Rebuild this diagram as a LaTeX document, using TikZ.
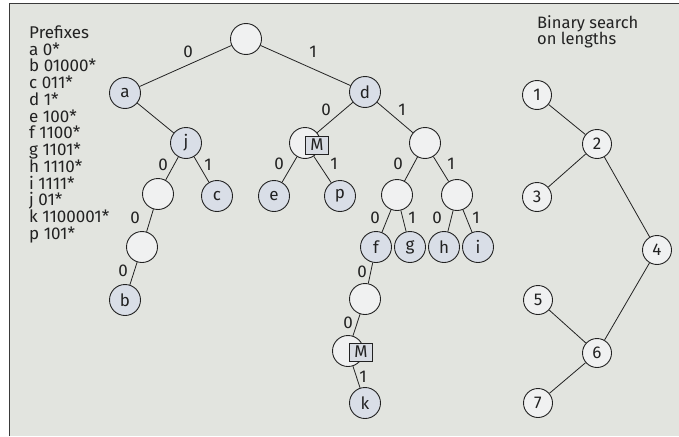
\documentclass[tikz,border=0pt]{standalone}
\usepackage{fontspec}
\setmainfont{Fira Sans}
\definecolor{bgfill}{HTML}{E2E4DF}
\definecolor{emptyfill}{HTML}{F0F1F1}
\definecolor{fullfill}{HTML}{D9DEE7}
\definecolor{boxfill}{HTML}{D8DCE3}
\definecolor{ink}{HTML}{222222}
\definecolor{framecol}{HTML}{3A3A3A}
\newcommand{\labfont}{\fontsize{17}{19}\selectfont}
\tikzset{
  lab/.style={circle, draw=ink, line width=0.9pt, fill=fullfill, minimum size=31pt,
              inner sep=0pt, text=ink, font=\labfont},
  emp/.style={lab, fill=emptyfill},
  lenbox/.style={lab, fill=emptyfill, minimum size=29pt},
  mbox/.style={draw=ink, fill=boxfill, line width=0.8pt, minimum width=23pt,
               minimum height=18pt, inner sep=0pt, text=ink, font=\labfont},
  bit/.style={inner sep=0pt, text=ink, font=\labfont},
  txt/.style={inner sep=0pt, anchor=base west, text=ink, font=\labfont},
  edge/.style={draw=ink, line width=0.8pt}
}
\begin{document}
\begin{tikzpicture}[x=1pt, y=-1pt]
\useasboundingbox (0,0) rectangle (679,436);
% panel
\fill[bgfill] (9.5,3.5) rectangle (679,436);
\draw[framecol, line width=1.4pt] (9.5,436) -- (9.5,3.5) -- (679,3.5);

% prefix table
\foreach \t [count=\i from 0] in {Prefixes, a 0*, b 01000*, c 011*, d 1*, e 100*,
  f 1100*, g 1101*, h 1110*, i 1111*, j 01*, k 1100001*, p 101*}
  \node[txt] (pf\i) at (29, 38.3+16.75*\i) {\t};

% trie nodes
\node[emp] (root) at (246,39) {};
\node[lab] (a) at (125,93) {a};
\node[lab] (d) at (365,92) {d};
\node[lab] (j) at (186,143) {j};
\node[emp] (m1) at (305,143) {};
\node[emp] (r1) at (425,143) {};
\node[emp] (j0) at (158,194) {};
\node[lab] (c) at (217,196) {c};
\node[lab] (e) at (274,196) {e};
\node[lab] (p) at (340,196) {p};
\node[emp] (r10) at (397,195) {};
\node[emp] (r11) at (457,195) {};
\node[emp] (j00) at (142,247) {};
\node[lab] (f) at (376,247) {f};
\node[lab] (g) at (410,247) {g};
\node[lab] (h) at (444,247) {h};
\node[lab] (i) at (478,247) {i};
\node[lab] (b) at (125,300) {b};
\node[emp] (f0) at (365,299) {};
\node[emp] (m2) at (348,351) {};
\node[lab] (k) at (365,403) {k};

% trie edges
\draw[edge] (root) -- (a);  \node[bit] (l1) at (188,52) {0};
\draw[edge] (root) -- (d);  \node[bit] (l2) at (313,52) {1};
\draw[edge] (a) -- (j);
\draw[edge] (d) -- (m1);    \node[bit] (l3) at (326,110) {0};
\draw[edge] (d) -- (r1);    \node[bit] (l4) at (402,110) {1};
\draw[edge] (j) -- (j0);    \node[bit] (l5) at (163,165) {0};
\draw[edge] (j) -- (c);     \node[bit] (l6) at (208,165) {1};
\draw[edge] (m1) -- (e);    \node[bit] (l7) at (279,164) {0};
\draw[edge] (m1) -- (p);    \node[bit] (l8) at (334,164) {1};
\draw[edge] (r1) -- (r10);  \node[bit] (l9) at (398,164) {0};
\draw[edge] (r1) -- (r11);  \node[bit] (l10) at (451,164) {1};
\draw[edge] (j0) -- (j00);  \node[bit] (l11) at (135,218) {0};
\draw[edge] (j00) -- (b);   \node[bit] (l12) at (123,271) {0};
\draw[edge] (r10) -- (f);   \node[bit] (l13) at (375,218) {0};
\draw[edge] (r10) -- (g);   \node[bit] (l14) at (412,218) {1};
\draw[edge] (r11) -- (h);   \node[bit] (l15) at (437,218) {0};
\draw[edge] (r11) -- (i);   \node[bit] (l16) at (476,218) {1};
\draw[edge] (f) -- (f0);    \node[bit] (l17) at (362,272) {0};
\draw[edge] (f0) -- (m2);   \node[bit] (l18) at (348,323) {0};
\draw[edge] (m2) -- (k);    \node[bit] (l19) at (363,377) {1};

% marker boxes
\node[mbox] (mb1) at (317,145) {M};
\node[mbox] (mb2) at (361,352) {M};

% binary search on lengths
\node[inner sep=0pt, anchor=base west, align=left, text=ink,
      font=\fontsize{16.5}{15}\selectfont] (bs) at (537,45) {Binary search\\on lengths};
\node[lenbox] (n1) at (537,95) {1};
\node[lenbox] (n2) at (597,144) {2};
\node[lenbox] (n3) at (537,197) {3};
\node[lenbox] (n4) at (657,250) {4};
\node[lenbox] (n5) at (538,300) {5};
\node[lenbox] (n6) at (597,353) {6};
\node[lenbox] (n7) at (538,403) {7};
\draw[edge] (n1) -- (n2);
\draw[edge] (n2) -- (n3);
\draw[edge] (n2) -- (n4);
\draw[edge] (n4) -- (n6);
\draw[edge] (n5) -- (n6);
\draw[edge] (n6) -- (n7);
\end{tikzpicture}
\end{document}
